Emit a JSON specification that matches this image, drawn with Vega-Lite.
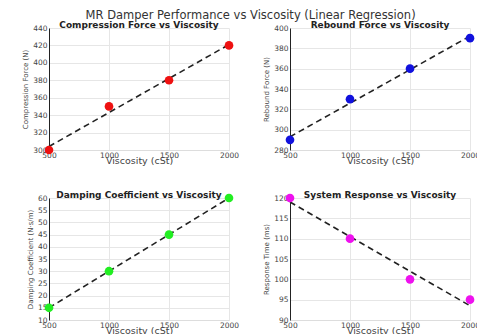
{
  "$schema": "https://vega.github.io/schema/vega-lite/v6.json",
  "padding": {"left": 21, "right": 0, "top": 9, "bottom": 0},
  "background": "white",
  "title": {"text": "MR Damper Performance vs Viscosity (Linear Regression)", "font": "DejaVu Sans", "fontSize": 11.5, "fontWeight": "normal", "color": "#333333", "anchor": "middle", "offset": 0},
  "datasets": {
    "comp": [{"viscosity": 500, "value": 300}, {"viscosity": 1000, "value": 350}, {"viscosity": 1500, "value": 380}, {"viscosity": 2000, "value": 420}],
    "reb": [{"viscosity": 500, "value": 290}, {"viscosity": 1000, "value": 330}, {"viscosity": 1500, "value": 360}, {"viscosity": 2000, "value": 390}],
    "damp": [{"viscosity": 500, "value": 15}, {"viscosity": 1000, "value": 30}, {"viscosity": 1500, "value": 45}, {"viscosity": 2000, "value": 60}],
    "resp": [{"viscosity": 500, "value": 120}, {"viscosity": 1000, "value": 110}, {"viscosity": 1500, "value": 100}, {"viscosity": 2000, "value": 95}]
  },
  "config": {
    "font": "DejaVu Sans",
    "view": {"stroke": null},
    "axis": {"labelFont": "DejaVu Sans", "labelFontSize": 7.5, "labelColor": "#444444", "titleFont": "DejaVu Sans", "titleFontWeight": "normal", "titleColor": "#444444", "gridColor": "#e6e6e6", "ticks": false, "labelPadding": 2, "domainColor": "#222222", "labelOverlap": false, "labelFlush": false},
    "axisX": {"titleFontSize": 9.5, "titlePadding": -3, "labelPadding": 1, "domainColor": "#dddddd", "format": "d"},
    "axisY": {"titleFontSize": 7, "titlePadding": 4},
    "title": {"fontSize": 9, "fontWeight": "bold", "font": "DejaVu Sans", "color": "#222222", "offset": -6}
  },
  "columns": 2,
  "spacing": {"column": 23, "row": 25},
  "concat": [
    {
      "width": 180, "height": 122,
      "data": {"name": "comp"},
      "title": "Compression Force vs Viscosity",
      "encoding": {
        "x": {"field": "viscosity", "type": "quantitative", "scale": {"domain": [500, 2000], "nice": false}, "axis": {"values": [500, 1000, 1500, 2000], "title": "Viscosity (cSt)"}},
        "y": {"field": "value", "type": "quantitative", "scale": {"domain": [300, 440], "nice": false, "zero": false}, "axis": {"values": [300, 320, 340, 360, 380, 400, 420, 440], "title": "Compression Force (N)"}}
      },
      "layer": [
        {"mark": {"type": "line", "color": "#222222", "strokeDash": [6, 4], "strokeWidth": 1.6},
         "transform": [{"regression": "value", "on": "viscosity"}]},
        {"mark": {"type": "point", "filled": true, "opacity": 1, "size": 75, "color": "#ee1111"}}
      ]
    },
    {
      "width": 180, "height": 122,
      "data": {"name": "reb"},
      "title": "Rebound Force vs Viscosity",
      "encoding": {
        "x": {"field": "viscosity", "type": "quantitative", "scale": {"domain": [500, 2000], "nice": false}, "axis": {"values": [500, 1000, 1500, 2000], "title": "Viscosity (cSt)"}},
        "y": {"field": "value", "type": "quantitative", "scale": {"domain": [280, 400], "nice": false, "zero": false}, "axis": {"values": [280, 300, 320, 340, 360, 380, 400], "title": "Rebound Force (N)"}}
      },
      "layer": [
        {"mark": {"type": "line", "color": "#222222", "strokeDash": [6, 4], "strokeWidth": 1.6},
         "transform": [{"regression": "value", "on": "viscosity"}]},
        {"mark": {"type": "point", "filled": true, "opacity": 1, "size": 75, "color": "#1111dd"}}
      ]
    },
    {
      "width": 180, "height": 122,
      "data": {"name": "damp"},
      "title": "Damping Coefficient vs Viscosity",
      "encoding": {
        "x": {"field": "viscosity", "type": "quantitative", "scale": {"domain": [500, 2000], "nice": false}, "axis": {"values": [500, 1000, 1500, 2000], "title": "Viscosity (cSt)"}},
        "y": {"field": "value", "type": "quantitative", "scale": {"domain": [10, 60], "nice": false, "zero": false}, "axis": {"values": [10, 15, 20, 25, 30, 35, 40, 45, 50, 55, 60], "title": "Damping Coefficient (N·s/m)"}}
      },
      "layer": [
        {"mark": {"type": "line", "color": "#222222", "strokeDash": [6, 4], "strokeWidth": 1.6},
         "transform": [{"regression": "value", "on": "viscosity"}]},
        {"mark": {"type": "point", "filled": true, "opacity": 1, "size": 75, "color": "#22ee22"}}
      ]
    },
    {
      "width": 180, "height": 122,
      "data": {"name": "resp"},
      "title": "System Response vs Viscosity",
      "encoding": {
        "x": {"field": "viscosity", "type": "quantitative", "scale": {"domain": [500, 2000], "nice": false}, "axis": {"values": [500, 1000, 1500, 2000], "title": "Viscosity (cSt)"}},
        "y": {"field": "value", "type": "quantitative", "scale": {"domain": [90, 120], "nice": false, "zero": false}, "axis": {"values": [90, 95, 100, 105, 110, 115, 120], "title": "Response Time (ms)"}}
      },
      "layer": [
        {"mark": {"type": "line", "color": "#222222", "strokeDash": [6, 4], "strokeWidth": 1.6},
         "transform": [{"regression": "value", "on": "viscosity"}]},
        {"mark": {"type": "point", "filled": true, "opacity": 1, "size": 75, "color": "#ee11ee"}}
      ]
    }
  ]
}
